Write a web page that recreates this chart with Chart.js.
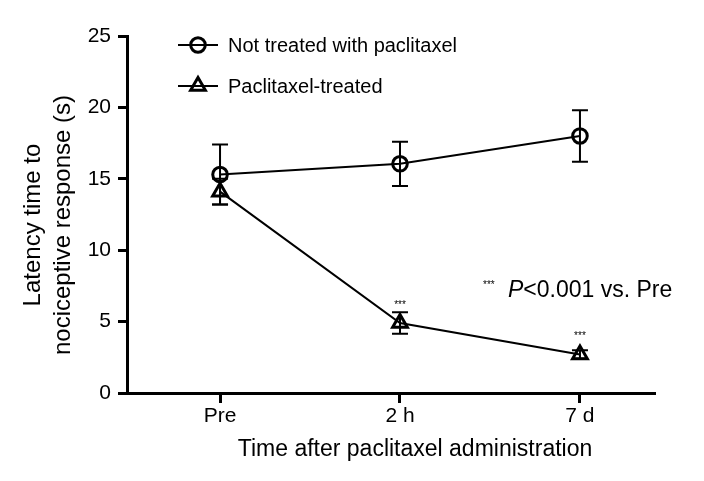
<!DOCTYPE html>
<html>
<head>
<meta charset="utf-8">
<script src="https://cdn.jsdelivr.net/npm/chart.js@4"></script>
<style>
html,body{margin:0;padding:0;background:#fff;}
#c{display:block;}
</style>
</head>
<body>
<canvas id="c" width="704" height="481"></canvas>
<script>
const categories = ['Pre', '2 h', '7 d'];
const notTreated = [15.3, 16.05, 18.0];
const notTreatedErr = [2.1, 1.55, 1.8];
const paclitaxelTreated = [14.1, 4.9, 2.7];
const paclitaxelTreatedErr = [0.9, 0.75, 0.3];
const significant = [false, true, true];
const yTicks = [0, 5, 10, 15, 20, 25];
const seriesNames = ['Not treated with paclitaxel', 'Paclitaxel-treated'];
const yTitleLines = ['Latency time to', 'nociceptive response (s)'];
const xTitle = 'Time after paclitaxel administration';
const noteStars = '***';
const noteP = 'P';
const noteRest = '<0.001 vs. Pre';

const FONT = '"Liberation Sans", Arial, Helvetica, sans-serif';

const toPoints = (vals) => vals.map((v, i) => ({x: i, y: v}));

const errors = [notTreatedErr, paclitaxelTreatedErr];

const annotPlugin = {
  id: 'annot',
  afterDatasetsDraw(chart) {
    const ctx = chart.ctx;
    const xs = chart.scales.x, ys = chart.scales.y;
    ctx.save();
    ctx.strokeStyle = '#000';
    ctx.fillStyle = '#000';
    // error bars
    ctx.lineWidth = 2;
    chart.data.datasets.forEach((ds, di) => {
      ds.data.forEach((p, i) => {
        const e = errors[di][i];
        const px = xs.getPixelForValue(p.x);
        const t = ys.getPixelForValue(p.y + e);
        const b = ys.getPixelForValue(p.y - e);
        ctx.beginPath();
        ctx.moveTo(px, t); ctx.lineTo(px, b);
        ctx.moveTo(px - 8, t); ctx.lineTo(px + 8, t);
        ctx.moveTo(px - 8, b); ctx.lineTo(px + 8, b);
        ctx.stroke();
      });
    });
    // significance stars
    ctx.font = '10px ' + FONT;
    ctx.textAlign = 'center';
    ctx.textBaseline = 'middle';
    paclitaxelTreated.forEach((v, i) => {
      if (!significant[i]) return;
      const px = xs.getPixelForValue(i);
      const py = ys.getPixelForValue(v) - 18;
      ctx.fillText(noteStars, px, py);
    });
    // legend
    const legendRows = [{y: 45, style: 'circle', r: 7.3}, {y: 86, style: 'triangle', r: 8.5}];
    legendRows.forEach((row, k) => {
      ctx.lineWidth = 2;
      ctx.beginPath();
      ctx.moveTo(178, row.y); ctx.lineTo(218, row.y);
      ctx.stroke();
      ctx.lineWidth = 3;
      ctx.fillStyle = 'rgba(0,0,0,0)';
      Chart.helpers.drawPoint(ctx, {pointStyle: row.style, radius: row.r, rotation: 0, borderWidth: 3}, 198, row.y);
      ctx.fillStyle = '#000';
      ctx.font = '20px ' + FONT;
      ctx.textAlign = 'left';
      ctx.textBaseline = 'middle';
      ctx.fillText(seriesNames[k], 228, row.y + 1);
    });
    // p-value note
    ctx.textAlign = 'left';
    ctx.textBaseline = 'alphabetic';
    ctx.font = '10px ' + FONT;
    ctx.fillText(noteStars, 483, 288);
    ctx.font = 'italic 23px ' + FONT;
    ctx.fillText(noteP, 508, 297);
    const pw = ctx.measureText(noteP).width;
    ctx.font = '23px ' + FONT;
    ctx.fillText(noteRest, 508 + pw, 297);
    // axis titles
    ctx.font = '23px ' + FONT;
    ctx.textAlign = 'center';
    ctx.textBaseline = 'middle';
    ctx.fillText(xTitle, 415, 450);
    ctx.font = '24px ' + FONT;
    [33, 63].forEach((tx, k) => {
      ctx.save();
      ctx.translate(tx, 225);
      ctx.rotate(-Math.PI / 2);
      ctx.fillText(yTitleLines[k], 0, 0);
      ctx.restore();
    });
    ctx.restore();
  }
};

new Chart(document.getElementById('c'), {
  type: 'line',
  data: {
    datasets: [
      {
        label: seriesNames[0],
        data: toPoints(notTreated),
        pointStyle: 'circle',
        pointRadius: 7.3,
        pointHoverRadius: 7.3
      },
      {
        label: seriesNames[1],
        data: toPoints(paclitaxelTreated),
        pointStyle: 'triangle',
        pointRadius: 8.5,
        pointHoverRadius: 8.5
      }
    ]
  },
  options: {
    responsive: false,
    animation: false,
    devicePixelRatio: 1,
    layout: {padding: {left: 0, right: 49, top: 36, bottom: 0}},
    elements: {
      line: {borderColor: '#000', borderWidth: 2, tension: 0, fill: false},
      point: {borderColor: '#000', backgroundColor: 'rgba(0,0,0,0)', borderWidth: 3}
    },
    plugins: {legend: {display: false}, tooltip: {enabled: false}},
    scales: {
      x: {
        type: 'linear',
        min: -0.517,
        max: 2.417,
        afterBuildTicks: (s) => { s.ticks = categories.map((c, i) => ({value: i})); },
        afterFit: (s) => { s.height = 88; },
        ticks: {
          callback: (v) => categories[v],
          color: '#000',
          font: {family: FONT, size: 21},
          padding: 1,
          maxRotation: 0,
          autoSkip: false
        },
        grid: {drawOnChartArea: false, drawTicks: true, tickLength: 10, tickWidth: 3, tickColor: '#000'},
        border: {display: true, color: '#000', width: 3}
      },
      y: {
        type: 'linear',
        min: 0,
        max: 25,
        afterBuildTicks: (s) => { s.ticks = yTicks.map(v => ({value: v})); },
        afterFit: (s) => { s.width = 127; },
        ticks: {
          color: '#000',
          font: {family: FONT, size: 21},
          padding: 7
        },
        grid: {drawOnChartArea: false, drawTicks: true, tickLength: 9, tickWidth: 3, tickColor: '#000'},
        border: {display: true, color: '#000', width: 3}
      }
    }
  },
  plugins: [annotPlugin]
});
</script>
</body>
</html>
